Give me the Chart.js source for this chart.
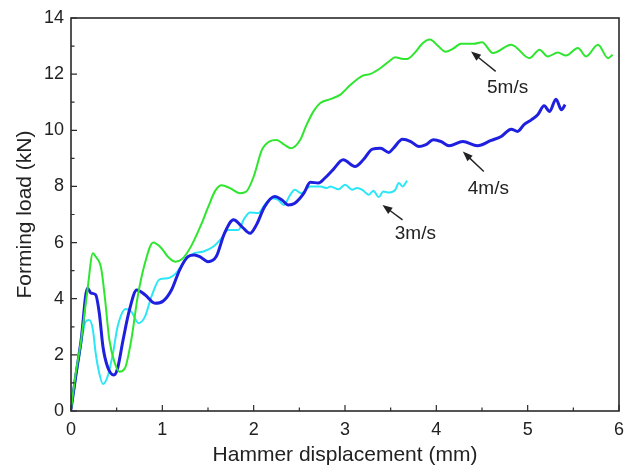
<!DOCTYPE html>
<html>
<head>
<meta charset="utf-8">
<script src="https://cdn.jsdelivr.net/npm/chart.js@4.4.0/dist/chart.umd.min.js"></script>
<style>
html,body{margin:0;padding:0;background:#fff;}
#wrap{width:633px;height:468px;}
</style>
</head>
<body>
<div id="wrap"><canvas id="c" width="633" height="468"></canvas></div>
<script>
// ---- data ----
const x5 = [0,0.05,0.11,0.18,0.24,0.27,0.33,0.37,0.42,0.48,0.53,0.59,0.66,0.73,0.81,0.9,0.99,1.06,1.14,1.22,1.32,1.42,1.5,1.58,1.65,1.74,1.85,1.92,2.0,2.09,2.17,2.25,2.33,2.41,2.51,2.58,2.66,2.73,2.84,2.95,3.06,3.19,3.28,3.39,3.48,3.55,3.62,3.68,3.76,3.85,3.93,4.02,4.1,4.18,4.27,4.41,4.5,4.62,4.82,5.02,5.13,5.22,5.33,5.42,5.55,5.64,5.77,5.88,5.93];
const y5 = [0.05,1.3,2.5,4.3,5.62,5.5,5.09,4.07,2.53,1.7,1.4,1.52,2.53,4.07,5.27,6.0,5.8,5.5,5.32,5.42,5.9,6.6,7.25,7.85,8.04,7.94,7.76,7.82,8.35,9.3,9.6,9.65,9.5,9.36,9.66,10.2,10.7,10.97,11.11,11.27,11.62,11.94,12.01,12.22,12.45,12.6,12.55,12.54,12.75,13.1,13.23,13.0,12.8,12.9,13.08,13.08,13.14,12.75,13.05,12.57,12.87,12.63,12.77,12.66,12.93,12.63,13.05,12.57,12.69];

const x4 = [0,0.05,0.11,0.18,0.22,0.27,0.31,0.35,0.40,0.47,0.51,0.57,0.64,0.72,0.81,0.92,1.01,1.10,1.19,1.28,1.35,1.41,1.50,1.59,1.68,1.78,1.87,1.96,2.03,2.12,2.23,2.31,2.38,2.45,2.55,2.62,2.71,2.78,2.87,2.98,3.11,3.2,3.30,3.39,3.48,3.53,3.63,3.72,3.81,3.88,3.97,4.05,4.14,4.29,4.45,4.6,4.71,4.82,4.89,4.96,5.04,5.11,5.18,5.24,5.31,5.37,5.41];
const y4 = [0.05,1.2,2.5,4.37,4.2,4.14,3.48,2.29,1.58,1.28,1.52,2.53,3.6,4.31,4.14,3.84,3.92,4.31,5.03,5.5,5.56,5.5,5.32,5.5,6.33,6.81,6.57,6.33,6.63,7.28,7.64,7.52,7.34,7.4,7.76,8.15,8.12,8.3,8.6,8.95,8.71,8.95,9.33,9.36,9.21,9.36,9.68,9.6,9.42,9.48,9.66,9.6,9.45,9.6,9.45,9.64,9.78,10.04,9.96,10.2,10.37,10.55,10.87,10.67,11.11,10.73,10.91];

const x3 = [0,0.05,0.09,0.16,0.20,0.24,0.27,0.31,0.35,0.40,0.46,0.51,0.60,0.66,0.74,0.81,0.88,0.97,1.06,1.15,1.25,1.35,1.45,1.56,1.65,1.72,1.83,1.9,1.96,2.05,2.12,2.2,2.27,2.33,2.40,2.45,2.52,2.62,2.73,2.80,2.84,2.93,3.0,3.08,3.13,3.19,3.26,3.31,3.37,3.42,3.48,3.55,3.59,3.63,3.68];
const y3 = [0.05,1.1,1.94,3.18,3.24,2.89,2.06,1.34,0.96,1.22,2.06,3.0,3.63,3.54,3.13,3.36,4.07,4.69,4.73,4.91,5.38,5.62,5.68,5.86,6.16,6.45,6.45,6.87,7.07,7.05,7.34,7.58,7.52,7.34,7.7,7.88,7.76,8.0,8.0,7.94,8.0,7.9,8.06,7.88,7.94,7.88,7.7,7.85,7.62,7.82,7.78,7.88,8.12,8.0,8.21];

const xTicks = [0,1,2,3,4,5,6];
const yTicks = [0,2,4,6,8,10,12,14];

const noteText  = ['5m/s','4m/s','3m/s'];
const noteX     = [4.78, 4.57, 3.77];
const noteY     = [11.5, 7.9, 6.32];
const tipX      = [4.38, 4.29, 3.41];
const tipY      = [12.81, 9.24, 7.34];
const tailX     = [4.65, 4.52, 3.63];
const tailY     = [12.10, 8.53, 6.81];

const FONT = "'Liberation Sans', Arial, Helvetica, sans-serif";

function pts(xs, ys){ return xs.map((x,i)=>({x:x, y:ys[i]})); }

const framePlugin = {
  id:'frame',
  afterDraw(chart){
    const {ctx, chartArea:a, scales:{x, y}} = chart;
    ctx.save();
    ctx.strokeStyle = '#2a2a2a';
    ctx.lineWidth = 1.6;
    ctx.strokeRect(a.left, a.top, a.right-a.left, a.bottom-a.top);
    ctx.lineWidth = 1.2;
    ctx.beginPath();
    for (let v = 0; v <= 6.0001; v += 0.5) {
      const px = x.getPixelForValue(v);
      const len = (Math.abs(v - Math.round(v)) < 1e-6) ? 6 : 3.5;
      ctx.moveTo(px, a.bottom); ctx.lineTo(px, a.bottom - len);
    }
    for (let v = 0; v <= 14.0001; v += 1) {
      const py = y.getPixelForValue(v);
      const len = (v % 2 === 0) ? 6 : 3.5;
      ctx.moveTo(a.left, py); ctx.lineTo(a.left + len, py);
    }
    ctx.stroke();
    ctx.restore();
  }
};

const notePlugin = {
  id:'notes',
  afterDatasetsDraw(chart){
    const {ctx, scales:{x, y}} = chart;
    ctx.save();
    for (let i = 0; i < noteText.length; i++) {
      const x1 = x.getPixelForValue(tailX[i]), y1 = y.getPixelForValue(tailY[i]);
      const x2 = x.getPixelForValue(tipX[i]),  y2 = y.getPixelForValue(tipY[i]);
      const ang = Math.atan2(y2-y1, x2-x1);
      const hl = 10, hw = 3.8;
      ctx.strokeStyle = '#222'; ctx.fillStyle = '#222'; ctx.lineWidth = 1.4;
      ctx.beginPath();
      ctx.moveTo(x1, y1);
      ctx.lineTo(x2 - Math.cos(ang)*hl*0.8, y2 - Math.sin(ang)*hl*0.8);
      ctx.stroke();
      ctx.beginPath();
      ctx.moveTo(x2, y2);
      ctx.lineTo(x2 - Math.cos(ang)*hl + Math.sin(ang)*hw, y2 - Math.sin(ang)*hl - Math.cos(ang)*hw);
      ctx.lineTo(x2 - Math.cos(ang)*hl - Math.sin(ang)*hw, y2 - Math.sin(ang)*hl + Math.cos(ang)*hw);
      ctx.closePath();
      ctx.fill();
      ctx.font = '19px ' + FONT;
      ctx.fillStyle = '#222';
      ctx.textAlign = 'center';
      ctx.textBaseline = 'middle';
      ctx.fillText(noteText[i], x.getPixelForValue(noteX[i]), y.getPixelForValue(noteY[i]));
    }
    ctx.restore();
  }
};

new Chart(document.getElementById('c'), {
  type:'line',
  data:{
    datasets:[
      {label:'5m/s', data:pts(x5,y5), borderColor:'#2fe62f', borderWidth:2, pointRadius:0, cubicInterpolationMode:'monotone', fill:false},
      {label:'4m/s', data:pts(x4,y4), borderColor:'#1f1fe0', borderWidth:3, pointRadius:0, cubicInterpolationMode:'monotone', fill:false},
      {label:'3m/s', data:pts(x3,y3), borderColor:'#2ae6f6', borderWidth:2, pointRadius:0, cubicInterpolationMode:'monotone', fill:false}
    ]
  },
  options:{
    responsive:false,
    animation:false,
    devicePixelRatio:1,
    layout:{padding:{left:0, top:18, right:14, bottom:0}},
    plugins:{legend:{display:false}, tooltip:{enabled:false}},
    scales:{
      x:{
        type:'linear', min:0, max:6,
        afterBuildTicks(s){ s.ticks = xTicks.map(v=>({value:v})); },
        afterFit(s){ s.height = 57; },
        grid:{display:false, drawTicks:false},
        border:{display:false},
        ticks:{padding:8, color:'#222', font:{family:FONT, size:18}, maxRotation:0},
        title:{display:true, text:'Hammer displacement (mm)', color:'#222', font:{family:FONT, size:21}, padding:{top:0, bottom:0}}
      },
      y:{
        type:'linear', min:0, max:14,
        afterBuildTicks(s){ s.ticks = yTicks.map(v=>({value:v})); },
        afterFit(s){ s.width = 71; },
        grid:{display:false, drawTicks:false},
        border:{display:false},
        ticks:{padding:7, color:'#222', font:{family:FONT, size:18}},
        title:{display:true, text:'Forming load (kN)', color:'#222', font:{family:FONT, size:21}, padding:{top:13, bottom:0}}
      }
    }
  },
  plugins:[framePlugin, notePlugin]
});
</script>
</body>
</html>
